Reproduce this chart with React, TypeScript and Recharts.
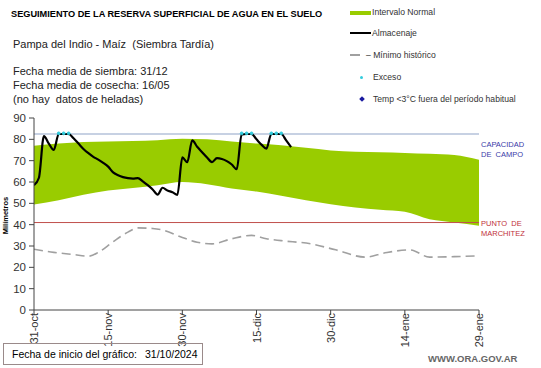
import {
	ComposedChart,
	Area,
	Line,
	XAxis,
	YAxis,
	ReferenceLine,
} from "recharts"

// etiquetas del eje x (cada 15 días desde 31-oct)
const fechas = ["31-oct", "15-nov", "30-nov", "15-dic", "30-dic", "14-ene", "29-ene"]
const fechasDias = [0, 15, 30, 45, 60, 75, 90]

// almacenaje diario (mm), día 0 = 31-oct
const almacenaje = [
	58.5, 62, 81.5, 78, 75, 82.5, 82.5, 82.5, 80.5, 78, 75.5, 73.5, 71.8, 70.5, 69, 67.2, 64.5, 63.2, 62.3,
	61.8, 61.6, 61.8, 60.3, 58.5, 56.5, 54.1, 57.3, 56, 55.2, 54, 71.5, 69.3, 79.5, 76.5, 74, 71.5, 69.3,
	71.2, 70.8, 69.8, 68.2, 66, 82.3, 82.5, 82.5, 80, 77.5, 75.6, 82.5, 82.5, 82.5, 79.5, 76.3,
]

// intervalo normal
const bandaDias = [0, 5, 10, 15, 20, 25, 30, 35, 40, 45, 50, 55, 60, 65, 70, 75, 80, 85, 90]
const bandaAlta = [77, 78, 78.8, 79, 79.2, 79.6, 80.3, 80, 79, 78, 77.2, 76, 74.8, 74.2, 73.9, 73.6, 73.2, 72.6, 70.4]
const bandaBaja = [49.5, 51.5, 54, 56, 57.2, 58.5, 60, 59, 57, 55.5, 53.5, 51.5, 49.6, 48, 47, 46, 42.5, 41, 39.5]

// mínimo histórico
const minimoDias = [0, 4, 8, 11, 13, 16, 19, 21, 24, 26, 30, 33, 36, 40, 44, 47, 50, 56, 61, 67, 71, 76, 80, 85, 90]
const minimoValores = [
	28.5, 27, 26, 25.2, 27, 32, 36.5, 38.5, 38.2, 37.5, 34, 31.8, 31, 33.4, 35, 33.4, 32.5, 31, 28.2, 24.8,
	26.8, 28.2, 24.8, 25, 25.4,
]

// días con exceso
const excesoDias = [5, 6, 7, 42, 43, 44, 48, 49, 50]

const capacidadCampo = 82.5
const puntoMarchitez = 41

const almacenajeData = almacenaje.map((v, i) => ({ day: i, v }))
const bandaData = bandaDias.map((d, i) => ({ day: d, rango: [bandaBaja[i], bandaAlta[i]] }))
const minimoData = minimoDias.map((d, i) => ({ day: d, v: minimoValores[i] }))
const excesoData = excesoDias.map((d) => ({ day: d, v: capacidadCampo + 0.3 }))

const FONT = "'Liberation Sans', Arial, sans-serif"

function XTick({ x, payload }: any) {
	const i = fechasDias.indexOf(payload.value)
	const y = 313
	return (
		<text
			x={x}
			y={y}
			transform={`rotate(-90 ${x} ${y})`}
			textAnchor="end"
			dy={4}
			fontSize={11}
			fill="#333"
			fontFamily={FONT}
		>
			{fechas[i]}
		</text>
	)
}

function App() {
	return (
		<div
			style={{
				position: "absolute",
				left: 0,
				top: 0,
				width: 541,
				height: 368,
				background: "#fff",
				fontFamily: FONT,
				color: "#000",
			}}
		>
			<ComposedChart
				width={541}
				height={368}
				margin={{ top: 118, right: 62, bottom: 0, left: 0 }}
				style={{ position: "absolute", left: 0, top: 0 }}
			>
				<XAxis
					type="number"
					dataKey="day"
					domain={[0, 90]}
					ticks={fechasDias}
					tick={<XTick />}
					tickSize={5}
					tickMargin={2}
					height={58}
					stroke="#444"
					allowDataOverflow
				/>
				<YAxis
					type="number"
					domain={[0, 90]}
					ticks={[0, 10, 20, 30, 40, 50, 60, 70, 80, 90]}
					width={34}
					tickSize={5}
					tickMargin={3}
					stroke="#444"
					tick={{ fontSize: 11.5, fill: "#333", fontFamily: FONT }}
				/>
				<Area
					data={bandaData}
					dataKey="rango"
					type="monotone"
					fill="#99CC00"
					fillOpacity={1}
					stroke="none"
					isAnimationActive={false}
				/>
				<ReferenceLine y={capacidadCampo} stroke="#8FA3C8" strokeWidth={1.2} />
				<ReferenceLine y={puntoMarchitez} stroke="#C0504D" strokeWidth={1} />
				<Line
					data={minimoData}
					dataKey="v"
					type="monotone"
					stroke="#A0A0A0"
					strokeWidth={1.6}
					strokeDasharray="9 5"
					dot={false}
					isAnimationActive={false}
				/>
				<Line
					data={almacenajeData}
					dataKey="v"
					type="monotone"
					stroke="#000"
					strokeWidth={2.2}
					dot={false}
					isAnimationActive={false}
				/>
				<Line
					data={excesoData}
					dataKey="v"
					stroke="none"
					dot={{ r: 1.4, fill: "#33CCDD", stroke: "#33CCDD" }}
					isAnimationActive={false}
				/>
			</ComposedChart>

			{/* textos */}
			<div style={{ position: "absolute", left: 11, top: 9, fontSize: 9.2, fontWeight: "bold", whiteSpace: "nowrap" }}>
				SEGUIMIENTO DE LA RESERVA SUPERFICIAL DE AGUA EN EL SUELO
			</div>
			<div style={{ position: "absolute", left: 13, top: 38, fontSize: 11, whiteSpace: "nowrap", color: "#222" }}>
				Pampa del Indio - Maíz&nbsp; (Siembra Tardía)
			</div>
			<div style={{ position: "absolute", left: 13, top: 64, fontSize: 11, lineHeight: "14px", whiteSpace: "nowrap", color: "#222" }}>
				Fecha media de siembra: 31/12
				<br />
				Fecha media de cosecha: 16/05
				<br />
				(no hay&nbsp; datos de heladas)
			</div>

			{/* leyenda */}
			<div style={{ position: "absolute", left: 350, top: 11, width: 21, height: 4, background: "#99CC00" }} />
			<div style={{ position: "absolute", left: 350, top: 32, width: 21, height: 2, background: "#000" }} />
			<div style={{ position: "absolute", left: 350, top: 54, width: 10, height: 1.5, background: "#A0A0A0" }} />
			<div style={{ position: "absolute", left: 360, top: 76, width: 3, height: 3, borderRadius: 2, background: "#33CCDD" }} />
			<div style={{ position: "absolute", left: 360, top: 97, width: 4, height: 4, transform: "rotate(45deg)", background: "#1a1aa0" }} />
			{[
				{ t: "Intervalo Normal", x: 372, y: 7 },
				{ t: "Almacenaje", x: 372, y: 28 },
				{ t: "– Mínimo histórico", x: 366, y: 50 },
				{ t: "Exceso", x: 373, y: 72 },
				{ t: "Temp <3°C fuera del período habitual", x: 373, y: 94 },
			].map((l) => (
				<div
					key={l.t}
					style={{ position: "absolute", left: l.x, top: l.y, fontSize: 8.6, color: "#333", whiteSpace: "nowrap" }}
				>
					{l.t}
				</div>
			))}

			<div style={{ position: "absolute", left: 481, top: 140, fontSize: 7.5, lineHeight: "10px", color: "#3A3AA8" }}>
				CAPACIDAD
				<br />
				DE&nbsp; CAMPO
			</div>
			<div style={{ position: "absolute", left: 481, top: 219, fontSize: 7.5, lineHeight: "10px", color: "#C0303A" }}>
				PUNTO&nbsp; DE
				<br />
				MARCHITEZ
			</div>

			<div
				style={{
					position: "absolute",
					left: 1,
					top: 220,
					fontSize: 7.5,
					fontWeight: "bold",
					transform: "translate(0,-50%) rotate(-90deg)",
					transformOrigin: "left top",
					whiteSpace: "nowrap",
				}}
			>
				<span style={{ display: "inline-block", transform: "translate(-50%, 0)" }}>Milímetros</span>
			</div>

			<div
				style={{
					position: "absolute",
					left: 3,
					top: 343,
					width: 200,
					height: 22,
					border: "1px solid #9a8a8a",
					boxSizing: "border-box",
					fontSize: 10.5,
					whiteSpace: "nowrap",
				}}
			>
				<span style={{ position: "absolute", left: 8, top: 4 }}>Fecha de inicio del gráfico:</span>
				<span style={{ position: "absolute", left: 141, top: 4 }}>31/10/2024</span>
			</div>
			<div style={{ position: "absolute", left: 428, top: 353, fontSize: 9.5, fontWeight: "bold", color: "#666" }}>
				WWW.ORA.GOV.AR
			</div>
		</div>
	)
}

export default App
